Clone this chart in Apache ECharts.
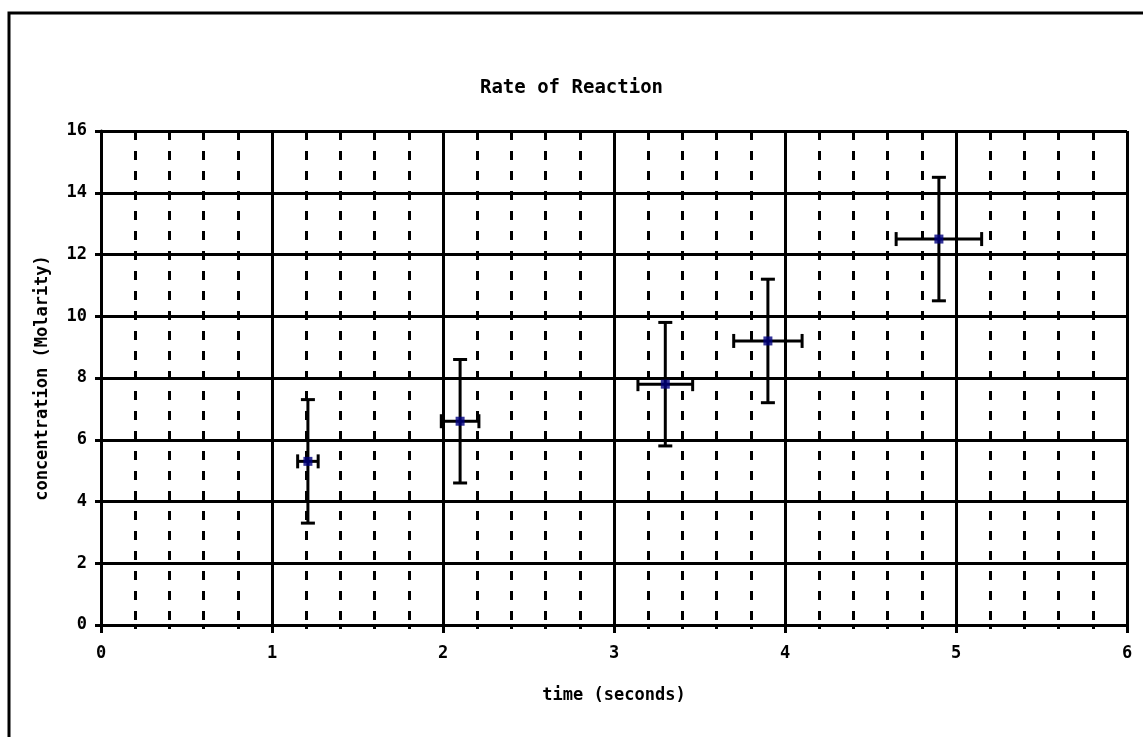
<!DOCTYPE html>
<html>
<head>
<meta charset="utf-8">
<title>Rate of Reaction</title>
<script src="https://cdn.jsdelivr.net/npm/echarts@6/dist/echarts.min.js"></script>
<style>
  html, body { margin: 0; padding: 0; background: #fff; }
  #chart { width: 1143px; height: 737px; }
</style>
</head>
<body>
<div id="chart"></div>
<script>
// Measured time (s) and concentration (M) with their uncertainties
const timeValues = [1.21, 2.1, 3.3, 3.9, 4.9];
const concValues = [5.3, 6.6, 7.8, 9.2, 12.5];
const timeErrors = [0.06, 0.11, 0.16, 0.2, 0.25];
const concErrors = [2, 2, 2, 2, 2];

const xTicks = [0, 1, 2, 3, 4, 5, 6];
const yTicks = [0, 2, 4, 6, 8, 10, 12, 14, 16];

const FONT = 'DejaVu Sans Mono';

const points = timeValues.map((t, i) => [t, concValues[i]]);
const errorRows = timeValues.map((t, i) => [t, concValues[i], timeErrors[i], concErrors[i]]);

const chart = echarts.init(document.getElementById('chart'), null, { renderer: 'canvas' });

chart.setOption({
  backgroundColor: '#ffffff',
  animation: false,
  title: {
    text: 'Rate of Reaction',
    left: 'center',
    top: 74,
    textStyle: { fontFamily: FONT, fontSize: 19, fontWeight: 'bold', color: '#000' }
  },
  graphic: [{
    type: 'rect',
    shape: { x: 9, y: 13, width: 1300, height: 900 },
    style: { fill: null, stroke: '#000', lineWidth: 3 },
    silent: true,
    z: 0
  }],
  grid: { left: 101, right: 16, top: 131, bottom: 112, containLabel: false },
  xAxis: [{
    type: 'value',
    min: xTicks[0],
    max: xTicks[xTicks.length - 1],
    interval: 1,
    name: 'time (seconds)',
    nameLocation: 'middle',
    nameGap: 62,
    nameTextStyle: { fontFamily: FONT, fontSize: 17, fontWeight: 'bold', color: '#000' },
    axisLine: { show: true, onZero: false, lineStyle: { color: '#000', width: 3 } },
    axisTick: { show: true, length: 8, lineStyle: { color: '#000', width: 3 } },
    axisLabel: { margin: 20, fontFamily: FONT, fontSize: 17, fontWeight: 'bold', color: '#000',
      formatter: v => String(v) },
    splitLine: { show: true, lineStyle: { color: '#000', width: 3 } },
    minorTick: { show: false },
    minorSplitLine: { show: false }
  }, {
    // overlay axis carrying the dashed 0.2 s grid and its small ticks
    type: 'value',
    gridIndex: 0,
    position: 'bottom',
    min: xTicks[0],
    max: xTicks[xTicks.length - 1],
    interval: 1,
    axisLine: { show: false },
    axisTick: { show: false },
    axisLabel: { show: false },
    splitLine: { show: false },
    minorTick: { show: true, splitNumber: 5, length: 4, lineStyle: { color: '#000', width: 3 } },
    minorSplitLine: { show: true, lineStyle: { color: '#000', width: 3, type: [9, 11] } },
    z: 1
  }],
  yAxis: {
    type: 'value',
    min: yTicks[0],
    max: yTicks[yTicks.length - 1],
    interval: 2,
    name: 'concentration (Molarity)',
    nameLocation: 'middle',
    nameGap: 50,
    nameTextStyle: { fontFamily: FONT, fontSize: 17, fontWeight: 'bold', color: '#000' },
    axisLine: { show: true, onZero: false, lineStyle: { color: '#000', width: 3 } },
    axisTick: { show: true, length: 6, lineStyle: { color: '#000', width: 3 } },
    axisLabel: { margin: 14, fontFamily: FONT, fontSize: 17, fontWeight: 'bold', color: '#000' },
    splitLine: { show: true, lineStyle: { color: '#000', width: 3 } }
  },
  series: [{
    name: 'error',
    type: 'custom',
    xAxisIndex: 0,
    data: errorRows,
    z: 5,
    renderItem: function (params, api) {
      const x = api.value(0), y = api.value(1);
      const dx = api.value(2), dy = api.value(3);
      const c = api.coord([x, y]);
      const left = api.coord([x - dx, y]);
      const right = api.coord([x + dx, y]);
      const top = api.coord([x, y + dy]);
      const bottom = api.coord([x, y - dy]);
      const cap = 7;
      const style = { stroke: '#000', lineWidth: 3, fill: null };
      const line = (x1, y1, x2, y2) => ({ type: 'line', shape: { x1, y1, x2, y2 }, style });
      return {
        type: 'group',
        children: [
          line(c[0], top[1], c[0], bottom[1]),
          line(c[0] - cap, top[1], c[0] + cap, top[1]),
          line(c[0] - cap, bottom[1], c[0] + cap, bottom[1]),
          line(left[0], c[1], right[0], c[1]),
          line(left[0], c[1] - cap, left[0], c[1] + cap),
          line(right[0], c[1] - cap, right[0], c[1] + cap)
        ]
      };
    }
  }, {
    name: 'concentration',
    type: 'scatter',
    xAxisIndex: 0,
    data: points,
    symbol: 'rect',
    symbolSize: 9,
    itemStyle: { color: '#000080' },
    z: 6
  }]
});
</script>
</body>
</html>
